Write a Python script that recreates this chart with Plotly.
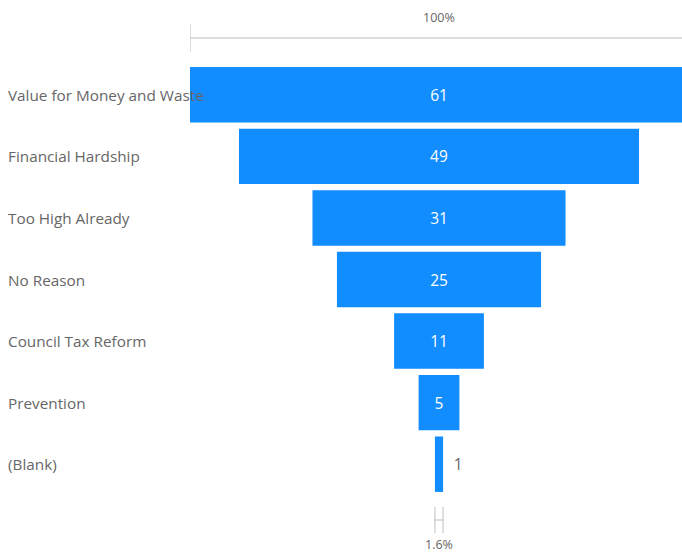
import plotly.graph_objects as go

categories = ["Value for Money and Waste", "Financial Hardship", "Too High Already",
              "No Reason", "Council Tax Reform", "Prevention", "(Blank)"]
values = [61, 49, 31, 25, 11, 5, 1]

W, H = 682, 553
BLUE = "#118DFF"
GRAY_TXT = "#666666"
LINE = "#BDBDBD"
FONT = "Open Sans"

# pixel layout helpers
x_left_px = 190
px_per_unit = 498 / values[0]
x_lo = -values[0] / 2
x_hi = x_lo + (W - x_left_px) / px_per_unit
y_top_px, y_bot_px = 64, 495


def py(p):
    return (H - p) / H


fig = go.Figure(go.Funnel(
    y=categories,
    x=values,
    texttemplate=["%{x}"] * (len(values) - 1) + ["\u2002%{x}"],
    textposition=["inside"] * (len(values) - 1) + ["outside"],
    insidetextanchor="middle",
    insidetextfont=dict(color="white", size=15.5, family=FONT),
    outsidetextfont=dict(color=GRAY_TXT, size=15.5, family=FONT),
    marker=dict(color=BLUE, line=dict(width=0)),
    connector=dict(visible=False),
    hoverinfo="skip",
    constraintext="none",
))

annotations = []
for c in categories:
    annotations.append(dict(
        x=6 / W, xref="paper", xanchor="left",
        y=c, yref="y", yanchor="middle",
        text=c, showarrow=False,
        font=dict(size=15.3, color=GRAY_TXT, family=FONT),
    ))

annotations.append(dict(
    x=0, xref="x", y=py(17), yref="paper", yanchor="middle",
    text=f"{values[0] / values[0] * 100:.0f}%", showarrow=False,
    font=dict(size=12.5, color=GRAY_TXT, family=FONT),
))
annotations.append(dict(
    x=0, xref="x", y=py(544), yref="paper", yanchor="middle",
    text=f"{values[-1] / values[0] * 100:.1f}%", showarrow=False,
    font=dict(size=12.5, color=GRAY_TXT, family=FONT),
))

shapes = [
    # top bracket
    dict(type="line", xref="x", yref="paper", x0=-values[0] / 2, x1=-values[0] / 2,
         y0=py(24), y1=py(52), line=dict(color=LINE, width=1)),
    dict(type="line", xref="x", yref="paper", x0=-values[0] / 2, x1=values[0] / 2,
         y0=py(38), y1=py(38), line=dict(color=LINE, width=1)),
    # bottom bracket
    dict(type="line", xref="x", yref="paper", x0=-values[-1] / 2, x1=-values[-1] / 2,
         y0=py(507), y1=py(533), line=dict(color=LINE, width=1)),
    dict(type="line", xref="x", yref="paper", x0=values[-1] / 2, x1=values[-1] / 2,
         y0=py(507), y1=py(533), line=dict(color=LINE, width=1)),
    dict(type="line", xref="x", yref="paper", x0=-values[-1] / 2, x1=values[-1] / 2,
         y0=py(520), y1=py(520), line=dict(color=LINE, width=1)),
]

fig.update_layout(
    width=W, height=H,
    margin=dict(l=0, r=0, t=0, b=0),
    paper_bgcolor="white", plot_bgcolor="white",
    showlegend=False,
    funnelgap=0.1,
    xaxis=dict(domain=[x_left_px / W, 1], range=[x_lo, x_hi], visible=False, fixedrange=True),
    yaxis=dict(domain=[py(y_bot_px), py(y_top_px)], showticklabels=False, showgrid=False,
               zeroline=False, showline=False, ticks="", fixedrange=True),
    annotations=annotations,
    shapes=shapes,
    font=dict(family=FONT),
)

fig.write_html("out.html", config={"displayModeBar": False},
               post_script="document.body.style.margin='0';document.body.style.overflow='hidden';")
